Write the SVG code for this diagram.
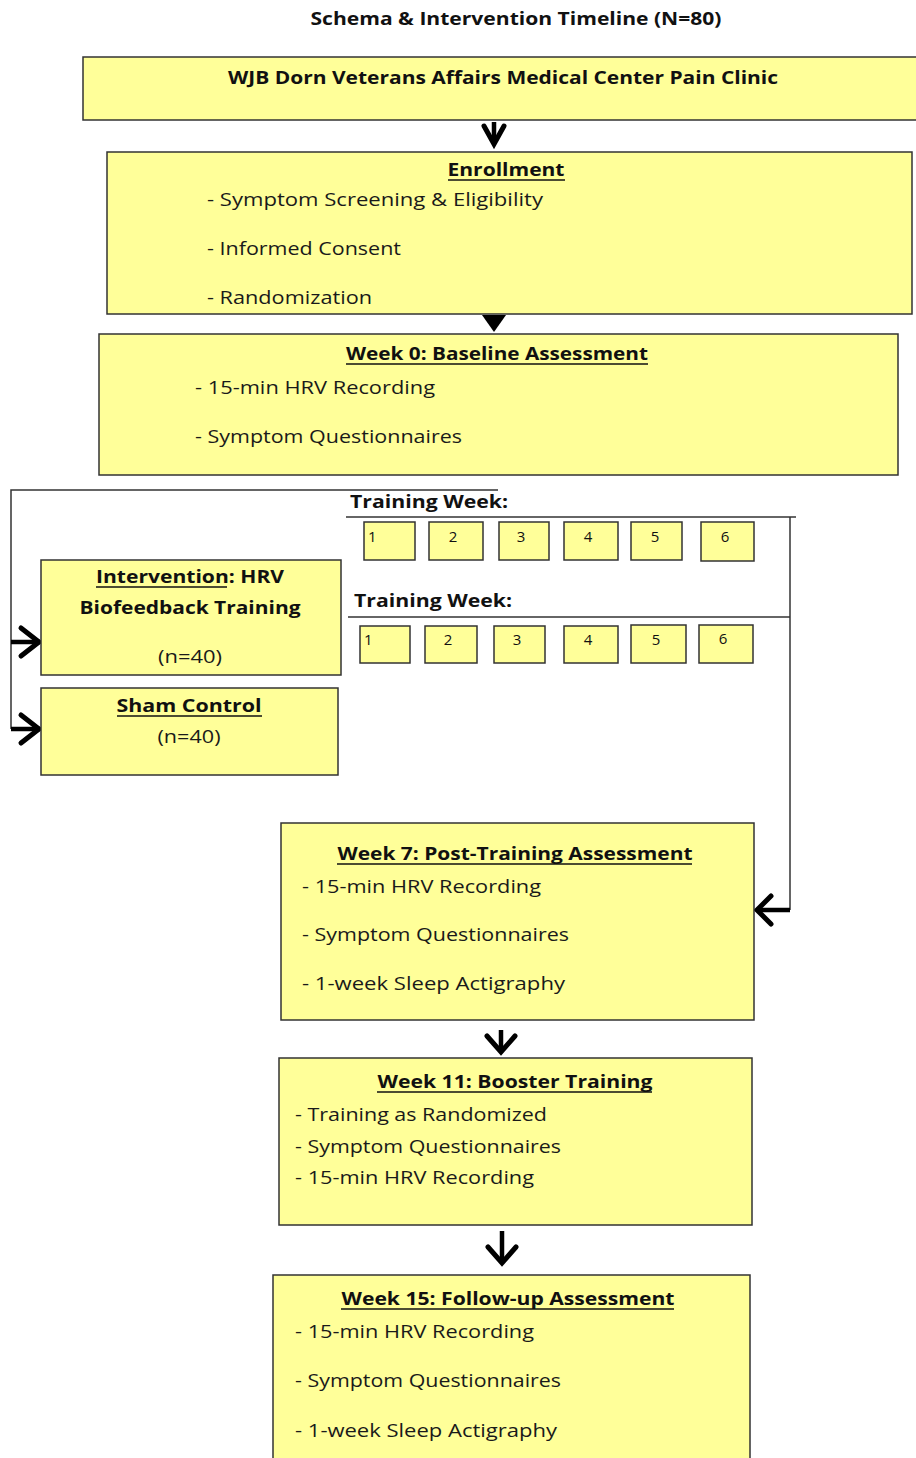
<svg xmlns="http://www.w3.org/2000/svg" width="916" height="1458" viewBox="0 0 916 1458">
<style>
.box{fill:#ffff99;stroke:#333;stroke-width:1.5}
.wk{fill:#ffff99;stroke:#333;stroke-width:1.5}
text{font-family:"Open Sans","Liberation Sans",sans-serif;fill:#111}
.t{font-weight:bold;font-size:18px}
.b{font-size:19px;fill:#1a1a1a}
.n{font-size:15px}
.u{stroke:#111;stroke-width:1.3}
.ln{fill:none;stroke:#333;stroke-width:1.5}
.ch{fill:none;stroke:#000;stroke-width:5;stroke-linejoin:miter;stroke-linecap:round}
.st{stroke:#000;stroke-width:4.5}
</style>
<rect width="916" height="1458" fill="#fff"/>
<text class="t" x="516" y="25" text-anchor="middle" textLength="411" lengthAdjust="spacingAndGlyphs">Schema &amp; Intervention Timeline (N=80)</text>

<g id="connectors">
<line class="st" x1="494" y1="122" x2="494" y2="144"/>
<polyline class="ch" points="484,126 494,144 504,126"/>
<polygon points="482,315 506,315 494,332" fill="#000"/>
<polyline class="ln" points="498,490 11,490 11,729"/>
<line class="st" x1="11" y1="642" x2="40" y2="642"/>
<polyline class="ch" points="21,628 39,642 21,656"/>
<line class="st" x1="11" y1="729" x2="40" y2="729"/>
<polyline class="ch" points="21,715 39,729 21,743"/>
<line class="ln" x1="346" y1="517" x2="796" y2="517"/>
<line class="ln" x1="348" y1="617" x2="790" y2="617"/>
<polyline class="ln" points="790,517 790,910"/>
<line class="st" x1="790" y1="910" x2="757" y2="910"/>
<polyline class="ch" points="771,896 757,910 771,924"/>
<line class="st" x1="501" y1="1030" x2="501" y2="1050"/>
<polyline class="ch" points="487,1036 501,1052 515,1036"/>
<line class="st" x1="502" y1="1231" x2="502" y2="1262"/>
<polyline class="ch" points="488,1247 502,1263 516,1247"/>
</g>

<g id="clinic">
<rect class="box" x="83" y="57" width="840" height="63"/>
<text class="t" x="503" y="84" text-anchor="middle" textLength="550" lengthAdjust="spacingAndGlyphs">WJB Dorn Veterans Affairs Medical Center Pain Clinic</text>
</g>

<g id="enrollment">
<rect class="box" x="107" y="152" width="805" height="162"/>
<text class="t" x="506" y="176" text-anchor="middle" textLength="117" lengthAdjust="spacingAndGlyphs">Enrollment</text>
<line class="u" x1="448" y1="180" x2="565" y2="180"/>
<text class="b" x="207" y="206" textLength="336" lengthAdjust="spacingAndGlyphs">- Symptom Screening &amp; Eligibility</text>
<text class="b" x="207" y="255" textLength="194" lengthAdjust="spacingAndGlyphs">- Informed Consent</text>
<text class="b" x="207" y="304" textLength="165" lengthAdjust="spacingAndGlyphs">- Randomization</text>
</g>

<g id="week0">
<rect class="box" x="99" y="334" width="799" height="141"/>
<text class="t" x="497" y="360" text-anchor="middle" textLength="302" lengthAdjust="spacingAndGlyphs">Week 0: Baseline Assessment</text>
<line class="u" x1="346" y1="364" x2="648" y2="364"/>
<text class="b" x="195" y="394" textLength="240" lengthAdjust="spacingAndGlyphs">- 15-min HRV Recording</text>
<text class="b" x="195" y="443" textLength="267" lengthAdjust="spacingAndGlyphs">- Symptom Questionnaires</text>
</g>

<g id="intervention">
<rect class="box" x="41" y="560" width="300" height="115"/>
<text class="t" x="96" y="583" textLength="188" lengthAdjust="spacingAndGlyphs">Intervention: HRV</text>
<line class="u" x1="96" y1="587" x2="227" y2="587"/>
<text class="t" x="190" y="614" text-anchor="middle" textLength="221" lengthAdjust="spacingAndGlyphs">Biofeedback Training</text>
<text class="b" x="190" y="663" text-anchor="middle" textLength="64" lengthAdjust="spacingAndGlyphs">(n=40)</text>
</g>

<g id="sham">
<rect class="box" x="41" y="688" width="297" height="87"/>
<text class="t" x="189" y="712" text-anchor="middle" textLength="145" lengthAdjust="spacingAndGlyphs">Sham Control</text>
<line class="u" x1="117" y1="716" x2="262" y2="716"/>
<text class="b" x="189" y="743" text-anchor="middle" textLength="63" lengthAdjust="spacingAndGlyphs">(n=40)</text>
</g>

<g id="training-weeks-1">
<text class="t" x="350" y="508" textLength="158" lengthAdjust="spacingAndGlyphs">Training Week:</text>
<rect class="wk" x="364" y="522" width="51" height="38"/>
<rect class="wk" x="429" y="522" width="54" height="38"/>
<rect class="wk" x="499" y="522" width="50" height="38"/>
<rect class="wk" x="564" y="522" width="54" height="38"/>
<rect class="wk" x="631" y="522" width="51" height="38"/>
<rect class="wk" x="701" y="522" width="53" height="39"/>
<text class="n" x="368" y="542">1</text>
<text class="n" x="453" y="542" text-anchor="middle">2</text>
<text class="n" x="521" y="542" text-anchor="middle">3</text>
<text class="n" x="588" y="542" text-anchor="middle">4</text>
<text class="n" x="655" y="542" text-anchor="middle">5</text>
<text class="n" x="725" y="542" text-anchor="middle">6</text>
</g>

<g id="training-weeks-2">
<text class="t" x="354" y="607" textLength="158" lengthAdjust="spacingAndGlyphs">Training Week:</text>
<rect class="wk" x="360" y="626" width="50" height="37"/>
<rect class="wk" x="425" y="626" width="52" height="37"/>
<rect class="wk" x="494" y="626" width="51" height="37"/>
<rect class="wk" x="564" y="626" width="54" height="37"/>
<rect class="wk" x="631" y="625" width="55" height="38"/>
<rect class="wk" x="699" y="625" width="54" height="38"/>
<text class="n" x="364" y="645">1</text>
<text class="n" x="448" y="645" text-anchor="middle">2</text>
<text class="n" x="517" y="645" text-anchor="middle">3</text>
<text class="n" x="588" y="645" text-anchor="middle">4</text>
<text class="n" x="656" y="645" text-anchor="middle">5</text>
<text class="n" x="723" y="644" text-anchor="middle">6</text>
</g>

<g id="week7">
<rect class="box" x="281" y="823" width="473" height="197"/>
<text class="t" x="515" y="860" text-anchor="middle" textLength="355" lengthAdjust="spacingAndGlyphs">Week 7: Post-Training Assessment</text>
<line class="u" x1="337" y1="864" x2="692" y2="864"/>
<text class="b" x="302" y="893" textLength="239" lengthAdjust="spacingAndGlyphs">- 15-min HRV Recording</text>
<text class="b" x="302" y="941" textLength="267" lengthAdjust="spacingAndGlyphs">- Symptom Questionnaires</text>
<text class="b" x="302" y="990" textLength="263" lengthAdjust="spacingAndGlyphs">- 1-week Sleep Actigraphy</text>
</g>

<g id="week11">
<rect class="box" x="279" y="1058" width="473" height="167"/>
<text class="t" x="515" y="1088" text-anchor="middle" textLength="275" lengthAdjust="spacingAndGlyphs">Week 11: Booster Training</text>
<line class="u" x1="377" y1="1092" x2="652" y2="1092"/>
<text class="b" x="295" y="1121" textLength="252" lengthAdjust="spacingAndGlyphs">- Training as Randomized</text>
<text class="b" x="295" y="1153" textLength="266" lengthAdjust="spacingAndGlyphs">- Symptom Questionnaires</text>
<text class="b" x="295" y="1184" textLength="239" lengthAdjust="spacingAndGlyphs">- 15-min HRV Recording</text>
</g>

<g id="week15">
<rect class="box" x="273" y="1275" width="477" height="200"/>
<text class="t" x="508" y="1305" text-anchor="middle" textLength="333" lengthAdjust="spacingAndGlyphs">Week 15: Follow-up Assessment</text>
<line class="u" x1="341" y1="1309" x2="674" y2="1309"/>
<text class="b" x="295" y="1338" textLength="239" lengthAdjust="spacingAndGlyphs">- 15-min HRV Recording</text>
<text class="b" x="295" y="1387" textLength="266" lengthAdjust="spacingAndGlyphs">- Symptom Questionnaires</text>
<text class="b" x="295" y="1437" textLength="262" lengthAdjust="spacingAndGlyphs">- 1-week Sleep Actigraphy</text>
</g>
</svg>
